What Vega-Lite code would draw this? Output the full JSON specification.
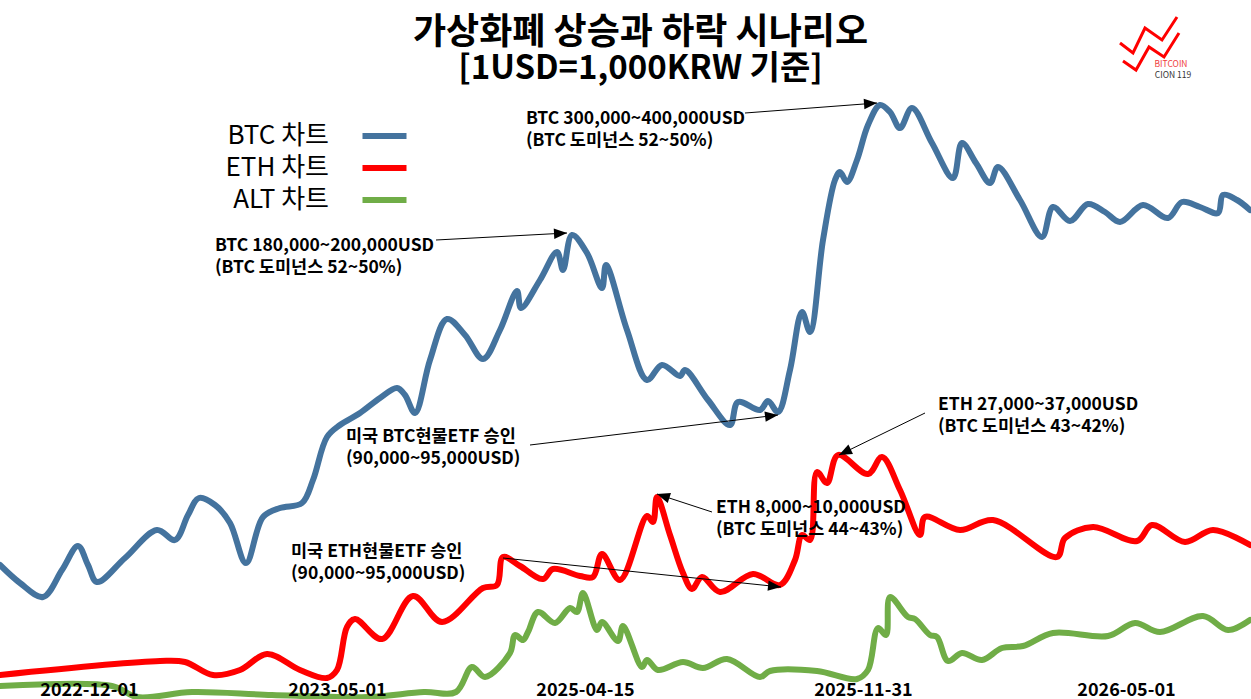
{
  "$schema": "https://vega.github.io/schema/vega-lite/v6.json",
  "width": 1251,
  "height": 699,
  "autosize": "none",
  "padding": 0,
  "background": "white",
  "config": {"view": {"stroke": null}},
  "title": {
    "text": "가상화폐 상승과 하락 시나리오",
    "subtitle": "[1USD=1,000KRW 기준]",
    "font": "Noto Sans CJK KR",
    "fontWeight": "bold",
    "fontSize": 36,
    "lineHeight": 36,
    "color": "black",
    "subtitleFont": "Noto Sans CJK KR",
    "subtitleFontWeight": "bold",
    "subtitleFontSize": 33,
    "subtitleLineHeight": 33,
    "subtitleColor": "black",
    "subtitlePadding": 1,
    "anchor": "middle",
    "baseline": "top",
    "dx": 15,
    "offset": -87
  },
  "datasets": {
    "prices": [
      {"series": "BTC 차트", "t": 0, "v": 134}, {"series": "BTC 차트", "t": 20, "v": 116}, {"series": "BTC 차트", "t": 43, "v": 102},
      {"series": "BTC 차트", "t": 62, "v": 129}, {"series": "BTC 차트", "t": 78, "v": 153}, {"series": "BTC 차트", "t": 88, "v": 134},
      {"series": "BTC 차트", "t": 97, "v": 117}, {"series": "BTC 차트", "t": 125, "v": 141}, {"series": "BTC 차트", "t": 157, "v": 169},
      {"series": "BTC 차트", "t": 175, "v": 159}, {"series": "BTC 차트", "t": 188, "v": 184}, {"series": "BTC 차트", "t": 199, "v": 201},
      {"series": "BTC 차트", "t": 215, "v": 194}, {"series": "BTC 차트", "t": 230, "v": 176}, {"series": "BTC 차트", "t": 246, "v": 136},
      {"series": "BTC 차트", "t": 263, "v": 182}, {"series": "BTC 차트", "t": 280, "v": 191}, {"series": "BTC 차트", "t": 302, "v": 196},
      {"series": "BTC 차트", "t": 313, "v": 219}, {"series": "BTC 차트", "t": 327, "v": 262}, {"series": "BTC 차트", "t": 340, "v": 274},
      {"series": "BTC 차트", "t": 360, "v": 286}, {"series": "BTC 차트", "t": 380, "v": 301}, {"series": "BTC 차트", "t": 397, "v": 311},
      {"series": "BTC 차트", "t": 405, "v": 304}, {"series": "BTC 차트", "t": 415, "v": 286}, {"series": "BTC 차트", "t": 430, "v": 339},
      {"series": "BTC 차트", "t": 447, "v": 380}, {"series": "BTC 차트", "t": 465, "v": 364}, {"series": "BTC 차트", "t": 483, "v": 340},
      {"series": "BTC 차트", "t": 500, "v": 369}, {"series": "BTC 차트", "t": 517, "v": 408}, {"series": "BTC 차트", "t": 521, "v": 391},
      {"series": "BTC 차트", "t": 540, "v": 419}, {"series": "BTC 차트", "t": 557, "v": 447}, {"series": "BTC 차트", "t": 563, "v": 429},
      {"series": "BTC 차트", "t": 572, "v": 464}, {"series": "BTC 차트", "t": 587, "v": 446}, {"series": "BTC 차트", "t": 602, "v": 411},
      {"series": "BTC 차트", "t": 606, "v": 434}, {"series": "BTC 차트", "t": 627, "v": 369}, {"series": "BTC 차트", "t": 647, "v": 319},
      {"series": "BTC 차트", "t": 662, "v": 334}, {"series": "BTC 차트", "t": 680, "v": 323}, {"series": "BTC 차트", "t": 685, "v": 329},
      {"series": "BTC 차트", "t": 708, "v": 299}, {"series": "BTC 차트", "t": 730, "v": 274}, {"series": "BTC 차트", "t": 738, "v": 297},
      {"series": "BTC 차트", "t": 760, "v": 289}, {"series": "BTC 차트", "t": 768, "v": 298}, {"series": "BTC 차트", "t": 778, "v": 287},
      {"series": "BTC 차트", "t": 790, "v": 329}, {"series": "BTC 차트", "t": 802, "v": 387}, {"series": "BTC 차트", "t": 810, "v": 367},
      {"series": "BTC 차트", "t": 823, "v": 459}, {"series": "BTC 차트", "t": 835, "v": 519}, {"series": "BTC 차트", "t": 840, "v": 527},
      {"series": "BTC 차트", "t": 847, "v": 517}, {"series": "BTC 차트", "t": 857, "v": 539}, {"series": "BTC 차트", "t": 868, "v": 574},
      {"series": "BTC 차트", "t": 880, "v": 594}, {"series": "BTC 차트", "t": 890, "v": 587}, {"series": "BTC 차트", "t": 900, "v": 571},
      {"series": "BTC 차트", "t": 912, "v": 591}, {"series": "BTC 차트", "t": 932, "v": 556}, {"series": "BTC 차트", "t": 953, "v": 521},
      {"series": "BTC 차트", "t": 962, "v": 556}, {"series": "BTC 차트", "t": 976, "v": 536}, {"series": "BTC 차트", "t": 990, "v": 516},
      {"series": "BTC 차트", "t": 998, "v": 532}, {"series": "BTC 차트", "t": 1020, "v": 499}, {"series": "BTC 차트", "t": 1042, "v": 462},
      {"series": "BTC 차트", "t": 1053, "v": 492}, {"series": "BTC 차트", "t": 1070, "v": 478}, {"series": "BTC 차트", "t": 1088, "v": 495},
      {"series": "BTC 차트", "t": 1105, "v": 487}, {"series": "BTC 차트", "t": 1120, "v": 477}, {"series": "BTC 차트", "t": 1143, "v": 494},
      {"series": "BTC 차트", "t": 1168, "v": 481}, {"series": "BTC 차트", "t": 1182, "v": 497}, {"series": "BTC 차트", "t": 1200, "v": 492},
      {"series": "BTC 차트", "t": 1218, "v": 486}, {"series": "BTC 차트", "t": 1223, "v": 504}, {"series": "BTC 차트", "t": 1237, "v": 499},
      {"series": "BTC 차트", "t": 1250, "v": 489},

      {"series": "ETH 차트", "t": 0, "v": 24}, {"series": "ETH 차트", "t": 160, "v": 38}, {"series": "ETH 차트", "t": 185, "v": 37},
      {"series": "ETH 차트", "t": 213, "v": 24}, {"series": "ETH 차트", "t": 240, "v": 29}, {"series": "ETH 차트", "t": 267, "v": 45},
      {"series": "ETH 차트", "t": 300, "v": 29}, {"series": "ETH 차트", "t": 327, "v": 21}, {"series": "ETH 차트", "t": 337, "v": 29},
      {"series": "ETH 차트", "t": 347, "v": 72}, {"series": "ETH 차트", "t": 355, "v": 80}, {"series": "ETH 차트", "t": 382, "v": 60},
      {"series": "ETH 차트", "t": 413, "v": 103}, {"series": "ETH 차트", "t": 442, "v": 77}, {"series": "ETH 차트", "t": 483, "v": 111},
      {"series": "ETH 차트", "t": 497, "v": 114}, {"series": "ETH 차트", "t": 503, "v": 142}, {"series": "ETH 차트", "t": 520, "v": 133},
      {"series": "ETH 차트", "t": 543, "v": 120}, {"series": "ETH 차트", "t": 553, "v": 130}, {"series": "ETH 차트", "t": 580, "v": 123},
      {"series": "ETH 차트", "t": 593, "v": 122}, {"series": "ETH 차트", "t": 602, "v": 145}, {"series": "ETH 차트", "t": 620, "v": 119},
      {"series": "ETH 차트", "t": 647, "v": 183}, {"series": "ETH 차트", "t": 653, "v": 177}, {"series": "ETH 차트", "t": 657, "v": 202},
      {"series": "ETH 차트", "t": 670, "v": 164}, {"series": "ETH 차트", "t": 683, "v": 126}, {"series": "ETH 차트", "t": 692, "v": 110},
      {"series": "ETH 차트", "t": 702, "v": 122}, {"series": "ETH 차트", "t": 720, "v": 107}, {"series": "ETH 차트", "t": 753, "v": 125},
      {"series": "ETH 차트", "t": 780, "v": 114}, {"series": "ETH 차트", "t": 795, "v": 139}, {"series": "ETH 차트", "t": 802, "v": 164},
      {"series": "ETH 차트", "t": 810, "v": 159}, {"series": "ETH 차트", "t": 817, "v": 227}, {"series": "ETH 차트", "t": 827, "v": 216},
      {"series": "ETH 차트", "t": 838, "v": 244}, {"series": "ETH 차트", "t": 868, "v": 225}, {"series": "ETH 차트", "t": 882, "v": 242},
      {"series": "ETH 차트", "t": 900, "v": 209}, {"series": "ETH 차트", "t": 920, "v": 164}, {"series": "ETH 차트", "t": 925, "v": 182},
      {"series": "ETH 차트", "t": 960, "v": 169}, {"series": "ETH 차트", "t": 993, "v": 179}, {"series": "ETH 차트", "t": 1057, "v": 142},
      {"series": "ETH 차트", "t": 1065, "v": 161}, {"series": "ETH 차트", "t": 1093, "v": 172}, {"series": "ETH 차트", "t": 1137, "v": 158},
      {"series": "ETH 차트", "t": 1152, "v": 174}, {"series": "ETH 차트", "t": 1185, "v": 157}, {"series": "ETH 차트", "t": 1213, "v": 169},
      {"series": "ETH 차트", "t": 1250, "v": 154},

      {"series": "ALT 차트", "t": 0, "v": 13}, {"series": "ALT 차트", "t": 112, "v": 13}, {"series": "ALT 차트", "t": 137, "v": 2},
      {"series": "ALT 차트", "t": 192, "v": 7}, {"series": "ALT 차트", "t": 272, "v": 4}, {"series": "ALT 차트", "t": 368, "v": 2},
      {"series": "ALT 차트", "t": 424, "v": 7}, {"series": "ALT 차트", "t": 456, "v": 7}, {"series": "ALT 차트", "t": 472, "v": 32},
      {"series": "ALT 차트", "t": 485, "v": 22}, {"series": "ALT 차트", "t": 510, "v": 46}, {"series": "ALT 차트", "t": 515, "v": 64},
      {"series": "ALT 차트", "t": 523, "v": 59}, {"series": "ALT 차트", "t": 528, "v": 67}, {"series": "ALT 차트", "t": 538, "v": 87},
      {"series": "ALT 차트", "t": 555, "v": 76}, {"series": "ALT 차트", "t": 570, "v": 91}, {"series": "ALT 차트", "t": 577, "v": 87},
      {"series": "ALT 차트", "t": 583, "v": 106}, {"series": "ALT 차트", "t": 597, "v": 69}, {"series": "ALT 차트", "t": 602, "v": 77},
      {"series": "ALT 차트", "t": 618, "v": 58}, {"series": "ALT 차트", "t": 623, "v": 73}, {"series": "ALT 차트", "t": 642, "v": 32},
      {"series": "ALT 차트", "t": 647, "v": 39}, {"series": "ALT 차트", "t": 658, "v": 29}, {"series": "ALT 차트", "t": 683, "v": 37},
      {"series": "ALT 차트", "t": 703, "v": 31}, {"series": "ALT 차트", "t": 727, "v": 40}, {"series": "ALT 차트", "t": 760, "v": 22},
      {"series": "ALT 차트", "t": 770, "v": 28}, {"series": "ALT 차트", "t": 817, "v": 28}, {"series": "ALT 차트", "t": 857, "v": 20},
      {"series": "ALT 차트", "t": 868, "v": 29}, {"series": "ALT 차트", "t": 878, "v": 71}, {"series": "ALT 차트", "t": 886, "v": 64},
      {"series": "ALT 차트", "t": 890, "v": 102}, {"series": "ALT 차트", "t": 908, "v": 82}, {"series": "ALT 차트", "t": 915, "v": 80},
      {"series": "ALT 차트", "t": 930, "v": 64}, {"series": "ALT 차트", "t": 937, "v": 62}, {"series": "ALT 차트", "t": 948, "v": 38},
      {"series": "ALT 차트", "t": 962, "v": 46}, {"series": "ALT 차트", "t": 982, "v": 39}, {"series": "ALT 차트", "t": 1002, "v": 51},
      {"series": "ALT 차트", "t": 1023, "v": 53}, {"series": "ALT 차트", "t": 1053, "v": 66}, {"series": "ALT 차트", "t": 1108, "v": 63},
      {"series": "ALT 차트", "t": 1135, "v": 76}, {"series": "ALT 차트", "t": 1160, "v": 67}, {"series": "ALT 차트", "t": 1203, "v": 83},
      {"series": "ALT 차트", "t": 1228, "v": 69}, {"series": "ALT 차트", "t": 1250, "v": 79}
    ],
    "notes": [
      {"label": "BTC  300,000~400,000USD\n(BTC 도미넌스 52~50%)", "tx": 526, "ty": 589.5, "ax": 745, "ay": 586, "bx": 877, "by": 596},
      {"label": "BTC  180,000~200,000USD\n(BTC 도미넌스 52~50%)", "tx": 215, "ty": 462.5, "ax": 436, "ay": 459, "bx": 567, "by": 466},
      {"label": "미국  BTC현물ETF  승인\n\u00a0(90,000~95,000USD)", "tx": 346, "ty": 271.5, "ax": 530, "ay": 254, "bx": 778, "by": 284},
      {"label": "미국  ETH현물ETF  승인\n\u00a0(90,000~95,000USD)", "tx": 291, "ty": 156.5, "ax": 503, "ay": 141, "bx": 781, "by": 112},
      {"label": "ETH  8,000~10,000USD\n(BTC 도미넌스 44~43%)", "tx": 716, "ty": 200.5, "ax": 712, "ay": 187, "bx": 657, "by": 205},
      {"label": "ETH  27,000~37,000USD\n(BTC 도미넌스 43~42%)", "tx": 938, "ty": 303, "ax": 925, "ay": 286, "bx": 839, "by": 244}
    ],
    "logo": [
      {"g": "a", "t": 1120, "v": 656}, {"g": "a", "t": 1133, "v": 646}, {"g": "a", "t": 1145, "v": 671}, {"g": "a", "t": 1162, "v": 659}, {"g": "a", "t": 1177, "v": 682},
      {"g": "b", "t": 1123, "v": 638}, {"g": "b", "t": 1136, "v": 629}, {"g": "b", "t": 1149, "v": 652}, {"g": "b", "t": 1164, "v": 642}, {"g": "b", "t": 1179, "v": 666}
    ],
    "logoText": [
      {"label": "BITCOIN", "t": 1171, "v": 635},
      {"label": "CION 119", "t": 1173, "v": 624}
    ]
  },
  "layer": [
    {
      "data": {"name": "prices"},
      "mark": {"type": "line", "interpolate": "catmull-rom", "strokeCap": "round", "strokeJoin": "round"},
      "encoding": {
        "x": {
          "field": "t", "type": "quantitative",
          "scale": {"domain": [0, 1251], "nice": false, "zero": false},
          "axis": {
            "values": [89, 337, 585, 863, 1126],
            "labelExpr": "datum.value == 89 ? '2022-12-01' : datum.value == 337 ? '2023-05-01' : datum.value == 585 ? '2025-04-15' : datum.value == 863 ? '2025-11-31' : '2026-05-01'",
            "offset": -18, "domain": false, "ticks": false, "grid": false, "title": null,
            "labelPadding": 0, "labelFontSize": 18, "labelFontWeight": "bold", "labelFont": "Noto Sans CJK KR",
            "labelColor": "black", "labelOverlap": false, "labelBound": false, "labelFlush": false, "zindex": 1
          }
        },
        "y": {"field": "v", "type": "quantitative", "scale": {"domain": [0, 699], "nice": false, "zero": false}, "axis": null},
        "color": {
          "field": "series", "type": "nominal",
          "scale": {"domain": ["BTC 차트", "ETH 차트", "ALT 차트"], "range": ["#44739E", "#FF0000", "#70AD47"]},
          "legend": {
            "orient": "none", "legendX": 370.5, "legendY": 122, "title": null, "padding": 0,
            "symbolType": "M-2,0L2,0", "symbolSize": 484, "symbolStrokeWidth": 5,
            "labelFontSize": 26, "labelFont": "Noto Sans CJK KR", "labelColor": "black",
            "labelAlign": "right", "labelOffset": -69.5, "labelLimit": 0,
            "rowPadding": 5
          }
        },
        "strokeWidth": {
          "field": "series", "type": "nominal",
          "scale": {"domain": ["BTC 차트", "ETH 차트", "ALT 차트"], "range": [6, 6, 4]},
          "legend": null
        }
      }
    },
    {
      "data": {"name": "notes"},
      "mark": {"type": "rule", "color": "black", "strokeWidth": 1},
      "encoding": {
        "x": {"field": "ax", "type": "quantitative", "scale": {"domain": [0, 1251], "nice": false, "zero": false}},
        "y": {"field": "ay", "type": "quantitative", "scale": {"domain": [0, 699], "nice": false, "zero": false}},
        "x2": {"field": "bx"},
        "y2": {"field": "by"}
      }
    },
    {
      "data": {"name": "notes"},
      "transform": [{"calculate": "atan2(-(datum.by - datum.ay), datum.bx - datum.ax) * 180 / PI", "as": "ang"}],
      "mark": {"type": "point", "shape": "M0,0L-1,-0.4L-1,0.4Z", "filled": true, "color": "black", "size": 676, "opacity": 1, "strokeWidth": 0},
      "encoding": {
        "x": {"field": "bx", "type": "quantitative", "scale": {"domain": [0, 1251], "nice": false, "zero": false}},
        "y": {"field": "by", "type": "quantitative", "scale": {"domain": [0, 699], "nice": false, "zero": false}},
        "angle": {"field": "ang", "type": "quantitative", "scale": null}
      }
    },
    {
      "data": {"name": "notes"},
      "mark": {"type": "text", "align": "left", "baseline": "top", "font": "Noto Sans CJK KR", "fontWeight": "bold", "fontSize": 17.5, "lineHeight": 22, "lineBreak": "\n", "color": "black"},
      "encoding": {
        "x": {"field": "tx", "type": "quantitative", "scale": {"domain": [0, 1251], "nice": false, "zero": false}},
        "y": {"field": "ty", "type": "quantitative", "scale": {"domain": [0, 699], "nice": false, "zero": false}},
        "text": {"field": "label"}
      }
    },
    {
      "data": {"name": "logo"},
      "mark": {"type": "line", "color": "#FF0000", "strokeWidth": 3},
      "encoding": {
        "x": {"field": "t", "type": "quantitative", "scale": {"domain": [0, 1251], "nice": false, "zero": false}},
        "y": {"field": "v", "type": "quantitative", "scale": {"domain": [0, 699], "nice": false, "zero": false}},
        "detail": {"field": "g"}
      }
    },
    {
      "data": {"name": "logoText"},
      "transform": [{"filter": "datum.label == 'BITCOIN'"}],
      "mark": {"type": "text", "font": "Noto Sans CJK KR", "fontSize": 8.5, "color": "#F03C3C", "align": "center", "baseline": "middle"},
      "encoding": {
        "x": {"field": "t", "type": "quantitative", "scale": {"domain": [0, 1251], "nice": false, "zero": false}},
        "y": {"field": "v", "type": "quantitative", "scale": {"domain": [0, 699], "nice": false, "zero": false}},
        "text": {"field": "label"}
      }
    },
    {
      "data": {"name": "logoText"},
      "transform": [{"filter": "datum.label == 'CION 119'"}],
      "mark": {"type": "text", "font": "Noto Sans CJK KR", "fontSize": 8.5, "color": "#333333", "align": "center", "baseline": "middle"},
      "encoding": {
        "x": {"field": "t", "type": "quantitative", "scale": {"domain": [0, 1251], "nice": false, "zero": false}},
        "y": {"field": "v", "type": "quantitative", "scale": {"domain": [0, 699], "nice": false, "zero": false}},
        "text": {"field": "label"}
      }
    }
  ]
}
